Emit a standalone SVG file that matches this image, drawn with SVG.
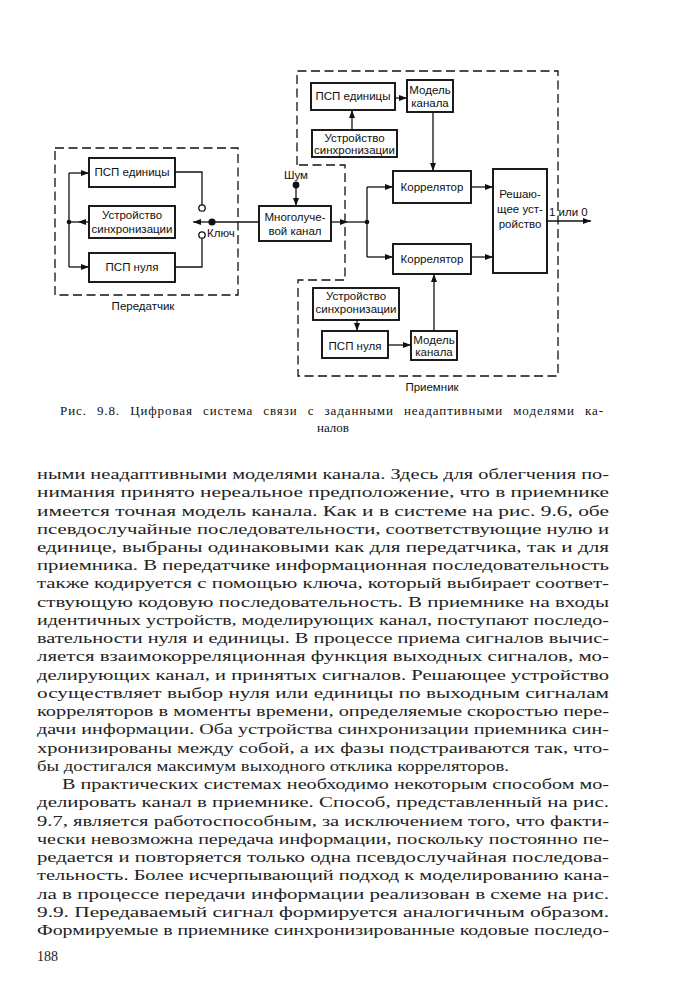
<svg xmlns="http://www.w3.org/2000/svg" width="675" height="990" viewBox="0 0 675 990">
<style>
.bg{fill:#ffffff}
.box{fill:#ffffff;stroke:#111;stroke-width:1.9}
.dash{fill:none;stroke:#111;stroke-width:1.3;stroke-dasharray:9 4.5}
.ln{fill:none;stroke:#111;stroke-width:1.3}
.dl{font-family:"Liberation Sans",Arial,sans-serif;font-size:11.5px;fill:#111;text-anchor:middle}
.lb{font-family:"Liberation Sans",Arial,sans-serif;font-size:11.5px;fill:#111}
.cap{font-family:"Liberation Serif","Times New Roman",serif;font-size:13px;fill:#111;word-spacing:6px}
.tx{font-family:"Liberation Serif","Times New Roman",serif;font-size:15px;fill:#222}
.dot{fill:#111}
.oc{fill:#fff;stroke:#111;stroke-width:1.3}
</style>
<defs>
<marker id="ah" markerUnits="userSpaceOnUse" markerWidth="9" markerHeight="7" refX="8" refY="3" orient="auto">
<path d="M0,0 L8,3 L0,6 Z" fill="#111"/>
</marker>
</defs>
<rect class="bg" x="0" y="0" width="675" height="990"/>

<!-- enclosures -->
<g id="transmitter">
<rect class="dash" x="55" y="148" width="183" height="147"/>
<text class="dl" x="143" y="310">Передатчик</text>
</g>
<g id="receiver">
<path class="dash" d="M297,165 V71 H558 V376 H298 V280 H345 V165 Z"/>
<text class="dl" x="432" y="391">Приемник</text>
</g>

<!-- connectors -->
<g id="connectors">
<line class="ln" x1="69" y1="173" x2="69" y2="267"/>
<line class="ln" x1="69" y1="173" x2="89" y2="173" marker-end="url(#ah)"/>
<line class="ln" x1="69" y1="267" x2="89" y2="267" marker-end="url(#ah)"/>
<line class="ln" x1="89" y1="222" x2="78" y2="222" marker-end="url(#ah)"/>
<line class="ln" x1="78" y1="222" x2="69" y2="222"/>
<polyline class="ln" points="175,172 202,172 202,205"/>
<polyline class="ln" points="175,267 202,267 202,238"/>
<line class="ln" x1="259" y1="222" x2="212" y2="222"/>
<line class="ln" x1="212" y1="222" x2="193" y2="222" marker-end="url(#ah)"/>
<line class="ln" x1="296" y1="185" x2="296" y2="206" marker-end="url(#ah)"/>
<line class="ln" x1="331" y1="222" x2="348" y2="222" marker-end="url(#ah)"/>
<line class="ln" x1="348" y1="222" x2="367" y2="222"/>
<line class="ln" x1="367" y1="187" x2="367" y2="257"/>
<line class="ln" x1="367" y1="187" x2="393" y2="187" marker-end="url(#ah)"/>
<line class="ln" x1="367" y1="257" x2="393" y2="257" marker-end="url(#ah)"/>
<line class="ln" x1="471" y1="187" x2="493" y2="187" marker-end="url(#ah)"/>
<line class="ln" x1="471" y1="257" x2="493" y2="257" marker-end="url(#ah)"/>
<line class="ln" x1="547" y1="221" x2="591" y2="221" marker-end="url(#ah)"/>
<line class="ln" x1="395" y1="98" x2="407" y2="98" marker-end="url(#ah)"/>
<line class="ln" x1="352" y1="130" x2="352" y2="110" marker-end="url(#ah)"/>
<line class="ln" x1="433" y1="112" x2="433" y2="171" marker-end="url(#ah)"/>
<line class="ln" x1="357" y1="320" x2="357" y2="331" marker-end="url(#ah)"/>
<line class="ln" x1="388" y1="345" x2="411" y2="345" marker-end="url(#ah)"/>
<line class="ln" x1="434" y1="331" x2="434" y2="274" marker-end="url(#ah)"/>
<circle class="dot" cx="69" cy="222" r="2.3"/>
<circle class="oc" cx="202" cy="208" r="3.2"/>
<circle class="oc" cx="202" cy="235" r="3.2"/>
<circle class="dot" cx="212" cy="222" r="3.6"/>
<circle class="dot" cx="296" cy="185" r="3.4"/>
<circle class="dot" cx="367" cy="222" r="2.3"/>
<text class="lb" x="207" y="237">Ключ</text>
<text class="dl" x="296" y="179">Шум</text>
<text class="lb" x="549" y="216">1 или 0</text>
</g>

<!-- transmitter nodes -->
<g id="t_psp1">
<rect class="box" x="89" y="158" width="86" height="29"/>
<text class="dl" x="132" y="176">ПСП единицы</text>
</g>
<g id="t_sync">
<rect class="box" x="89" y="206" width="86" height="32"/>
<text class="dl" x="132" y="219">Устройство</text>
<text class="dl" x="132" y="233">синхронизации</text>
</g>
<g id="t_psp0">
<rect class="box" x="89" y="253" width="86" height="29"/>
<text class="dl" x="132" y="271">ПСП нуля</text>
</g>
<g id="channel">
<rect class="box" x="259" y="206" width="72" height="35"/>
<text class="dl" x="295" y="221">Многолуче-</text>
<text class="dl" x="295" y="235">вой канал</text>
</g>

<!-- receiver nodes -->
<g id="r_psp1">
<rect class="box" x="311" y="83" width="84" height="27"/>
<text class="dl" x="353" y="100">ПСП единицы</text>
</g>
<g id="r_model1">
<rect class="box" x="407" y="80" width="46" height="32"/>
<text class="dl" x="430" y="94">Модель</text>
<text class="dl" x="430" y="107">канала</text>
</g>
<g id="r_sync1">
<rect class="box" x="312" y="130" width="85" height="27"/>
<text class="dl" x="354.5" y="142">Устройство</text>
<text class="dl" x="354.5" y="154">синхронизации</text>
</g>
<g id="corr1">
<rect class="box" x="393" y="171" width="78" height="32"/>
<text class="dl" x="432" y="191">Коррелятор</text>
</g>
<g id="corr2">
<rect class="box" x="393" y="244" width="78" height="30"/>
<text class="dl" x="432" y="263">Коррелятор</text>
</g>
<g id="decision">
<rect class="box" x="493" y="169" width="54" height="104"/>
<text class="dl" x="520" y="198">Решаю-</text>
<text class="dl" x="520" y="213">щее уст-</text>
<text class="dl" x="520" y="228">ройство</text>
</g>
<g id="r_sync0">
<rect class="box" x="313" y="288" width="86" height="32"/>
<text class="dl" x="356" y="300">Устройство</text>
<text class="dl" x="356" y="313">синхронизации</text>
</g>
<g id="r_psp0">
<rect class="box" x="322" y="331" width="66" height="27"/>
<text class="dl" x="355" y="350">ПСП нуля</text>
</g>
<g id="r_model0">
<rect class="box" x="411" y="331" width="46" height="29"/>
<text class="dl" x="434" y="344">Модель</text>
<text class="dl" x="434" y="356">канала</text>
</g>

<!-- caption -->
<g id="caption">
<text class="cap" x="60" y="415" textLength="543" lengthAdjust="spacing">Рис. 9.8. Цифровая система связи с заданными неадаптивными моделями ка-</text>
<text class="cap" x="333" y="432" text-anchor="middle">налов</text>
</g>

<!-- body text -->
<g id="body">
<text class="tx" x="37" y="479" textLength="572" lengthAdjust="spacingAndGlyphs">ными неадаптивными моделями канала. Здесь для облегчения по-</text>
<text class="tx" x="37" y="497.2" textLength="572" lengthAdjust="spacingAndGlyphs">нимания принято нереальное предположение, что в приемнике</text>
<text class="tx" x="37" y="515.5" textLength="572" lengthAdjust="spacingAndGlyphs">имеется точная модель канала. Как и в системе на рис. 9.6, обе</text>
<text class="tx" x="37" y="533.7" textLength="572" lengthAdjust="spacingAndGlyphs">псевдослучайные последовательности, соответствующие нулю и</text>
<text class="tx" x="37" y="552" textLength="572" lengthAdjust="spacingAndGlyphs">единице, выбраны одинаковыми как для передатчика, так и для</text>
<text class="tx" x="37" y="570.2" textLength="572" lengthAdjust="spacingAndGlyphs">приемника. В передатчике информационная последовательность</text>
<text class="tx" x="37" y="588.4" textLength="572" lengthAdjust="spacingAndGlyphs">также кодируется с помощью ключа, который выбирает соответ-</text>
<text class="tx" x="37" y="606.7" textLength="572" lengthAdjust="spacingAndGlyphs">ствующую кодовую последовательность. В приемнике на входы</text>
<text class="tx" x="37" y="624.9" textLength="572" lengthAdjust="spacingAndGlyphs">идентичных устройств, моделирующих канал, поступают последо-</text>
<text class="tx" x="37" y="643.2" textLength="572" lengthAdjust="spacingAndGlyphs">вательности нуля и единицы. В процессе приема сигналов вычис-</text>
<text class="tx" x="37" y="661.4" textLength="572" lengthAdjust="spacingAndGlyphs">ляется взаимокорреляционная функция выходных сигналов, мо-</text>
<text class="tx" x="37" y="679.6" textLength="572" lengthAdjust="spacingAndGlyphs">делирующих канал, и принятых сигналов. Решающее устройство</text>
<text class="tx" x="37" y="697.9" textLength="572" lengthAdjust="spacingAndGlyphs">осуществляет выбор нуля или единицы по выходным сигналам</text>
<text class="tx" x="37" y="716.1" textLength="572" lengthAdjust="spacingAndGlyphs">корреляторов в моменты времени, определяемые скоростью пере-</text>
<text class="tx" x="37" y="734.4" textLength="572" lengthAdjust="spacingAndGlyphs">дачи информации. Оба устройства синхронизации приемника син-</text>
<text class="tx" x="37" y="752.6" textLength="572" lengthAdjust="spacingAndGlyphs">хронизированы между собой, а их фазы подстраиваются так, что-</text>
<text class="tx" x="37" y="770.8" textLength="472" lengthAdjust="spacingAndGlyphs">бы достигался максимум выходного отклика корреляторов.</text>
<text class="tx" x="62" y="789.1" textLength="547" lengthAdjust="spacingAndGlyphs">В практических системах необходимо некоторым способом мо-</text>
<text class="tx" x="37" y="807.3" textLength="572" lengthAdjust="spacingAndGlyphs">делировать канал в приемнике. Способ, представленный на рис.</text>
<text class="tx" x="37" y="825.6" textLength="572" lengthAdjust="spacingAndGlyphs">9.7, является работоспособным, за исключением того, что факти-</text>
<text class="tx" x="37" y="843.8" textLength="572" lengthAdjust="spacingAndGlyphs">чески невозможна передача информации, поскольку постоянно пе-</text>
<text class="tx" x="37" y="862" textLength="572" lengthAdjust="spacingAndGlyphs">редается и повторяется только одна псевдослучайная последова-</text>
<text class="tx" x="37" y="880.3" textLength="572" lengthAdjust="spacingAndGlyphs">тельность. Более исчерпывающий подход к моделированию кана-</text>
<text class="tx" x="37" y="898.5" textLength="572" lengthAdjust="spacingAndGlyphs">ла в процессе передачи информации реализован в схеме на рис.</text>
<text class="tx" x="37" y="916.8" textLength="572" lengthAdjust="spacingAndGlyphs">9.9. Передаваемый сигнал формируется аналогичным образом.</text>
<text class="tx" x="37" y="935" textLength="572" lengthAdjust="spacingAndGlyphs">Формируемые в приемнике синхронизированные кодовые последо-</text>
<text class="tx" x="37" y="961" style="font-size:14px">188</text>
</g>
</svg>
